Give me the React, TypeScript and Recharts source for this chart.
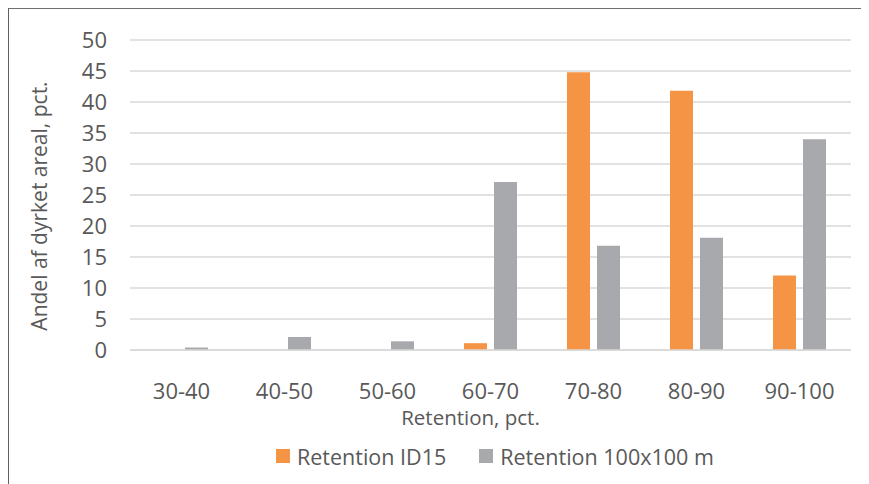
import { BarChart, Bar, XAxis, YAxis, CartesianGrid, Legend, Label } from 'recharts';

const categories = ['30-40', '40-50', '50-60', '60-70', '70-80', '80-90', '90-100'];
const id15Values = [0, 0, 0, 1.1, 44.8, 41.8, 12.0];
const gridValues = [0.4, 2.1, 1.4, 27.1, 16.8, 18.1, 34.0];
const yTicks = [0, 5, 10, 15, 20, 25, 30, 35, 40, 45, 50];

const SERIES = [
    { key: 'id15', name: 'Retention ID15', color: '#F69446' },
    { key: 'grid', name: 'Retention 100x100 m', color: '#A7A9AC' },
];

const chartData = categories.map((c, i) => ({
    name: c,
    id15: id15Values[i],
    grid: gridValues[i],
}));

const FONT = '"Open Sans", sans-serif';
const TEXT = '#595959';

function LegendContent() {
    return (
        <div style={{ display: 'flex', alignItems: 'center', fontFamily: FONT, fontSize: 21.5, color: TEXT }}>
            {SERIES.map((s, i) => (
                <div
                    key={s.key}
                    style={{ display: 'flex', alignItems: 'center', marginRight: i === 0 ? 33 : 0, height: 22 }}
                >
                    <span style={{ width: 14, height: 14, background: s.color, marginRight: 7, display: 'inline-block' }} />
                    <span>{s.name}</span>
                </div>
            ))}
        </div>
    );
}

// rotated y-axis title, placed from the axis viewBox
function YTitle(props: any) {
    const vb = props.viewBox || { x: 0, y: 0, width: 0, height: 0 };
    const cx = vb.x + 30;
    const cy = vb.y + vb.height / 2 + 11;
    return (
        <text
            x={cx}
            y={cy}
            transform={`rotate(-90, ${cx}, ${cy})`}
            textAnchor="middle"
            dominantBaseline="central"
            style={{ fontSize: 21, fill: TEXT, fontFamily: FONT }}
        >
            Andel af dyrket areal, pct.
        </text>
    );
}

export default function App() {
    return (
        <div
            style={{
                width: 861,
                height: 476,
                borderTop: '1px solid #707070',
                borderLeft: '1px solid #606060',
                background: '#fff',
            }}
        >
            <BarChart
                width={860}
                height={475}
                data={chartData}
                margin={{ top: 31, right: 18, left: 0, bottom: 54 }}
                barSize={23}
                barGap={7}
            >
                <CartesianGrid vertical={false} stroke="#d9d9d9" strokeWidth={1.5} />
                <XAxis
                    dataKey="name"
                    height={80}
                    tickLine={false}
                    tickSize={0}
                    tickMargin={33}
                    axisLine={{ stroke: '#d9d9d9', strokeWidth: 1.5 }}
                    tick={{ fontSize: 22, fill: TEXT, fontFamily: FONT }}
                >
                    <Label
                        value="Retention, pct."
                        position="insideTop"
                        offset={60}
                        dx={-20}
                        style={{ fontSize: 20.5, fill: TEXT, fontFamily: FONT }}
                    />
                </XAxis>
                <YAxis
                    width={121}
                    domain={[0, 50]}
                    ticks={yTicks}
                    interval={0}
                    tickLine={false}
                    axisLine={false}
                    tickSize={0}
                    tickMargin={23}
                    tick={{ fontSize: 22, fill: TEXT, fontFamily: FONT }}
                >
                    <Label content={YTitle} />
                </YAxis>
                <Legend
                    layout="horizontal"
                    verticalAlign="middle"
                    align="center"
                    content={LegendContent}
                    wrapperStyle={{ top: 436, left: 267, width: 560, height: 22 }}
                />
                {SERIES.map((s) => (
                    <Bar key={s.key} dataKey={s.key} name={s.name} fill={s.color} isAnimationActive={false} />
                ))}
            </BarChart>
        </div>
    );
}
